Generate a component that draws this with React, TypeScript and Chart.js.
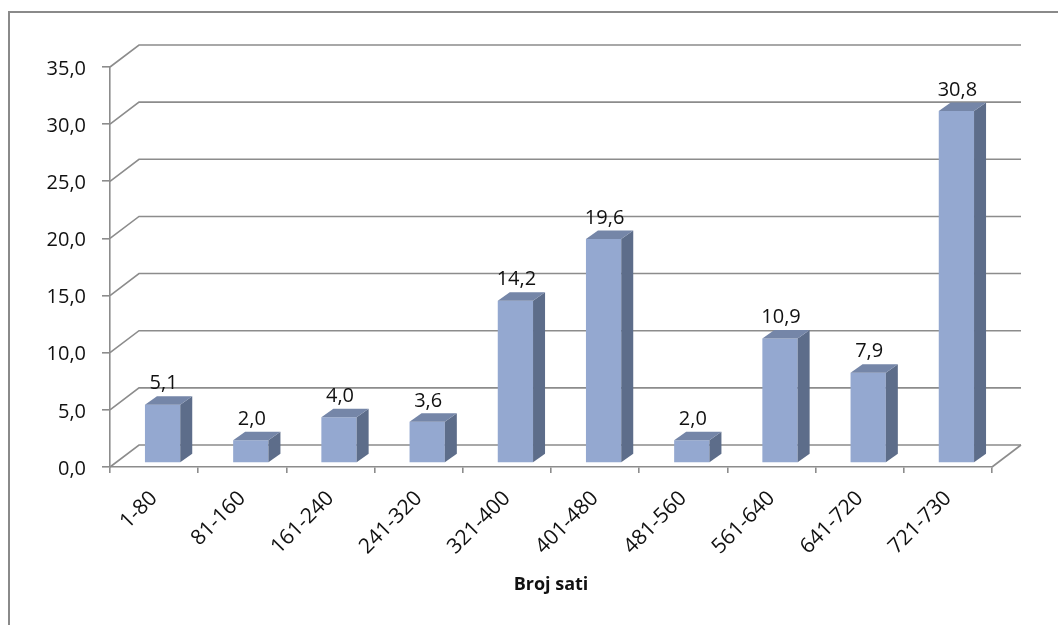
import { useEffect, useRef } from 'react';
import { Chart, registerables } from 'chart.js';

Chart.register(...registerables);

const categories = ['1-80', '81-160', '161-240', '241-320', '321-400', '401-480', '481-560', '561-640', '641-720', '721-730'];
const values = [5.1, 2.0, 4.0, 3.6, 14.2, 19.6, 2.0, 10.9, 7.9, 30.8];
const yTickValues = [0, 5, 10, 15, 20, 25, 30, 35];
const xAxisTitle = 'Broj sati';

const W = 1058;
const H = 625;
const FONT = "'Open Sans', 'Noto Sans', sans-serif";
const GRID = '#8c8c8c';
const FRONT = '#94a8d0';
const SIDE = '#5d6d8a';
const TOP = '#7586a8';
const DEPTH_X = 29;
const DEPTH_Y = -22;
const SHIFT_X = 8.5;
const SHIFT_Y = -4;
const BAR_DX = 12;
const BAR_DY = -8.5;

const fmt = (v: number) => v.toFixed(1).replace('.', ',');

const threeD = {
  id: 'threeD',
  beforeDraw(chart: any) {
    const ctx = chart.ctx;
    ctx.save();
    ctx.strokeStyle = '#8a8a8a';
    ctx.lineWidth = 2;
    ctx.beginPath();
    ctx.moveTo(9, H);
    ctx.lineTo(9, 12);
    ctx.lineTo(W, 12);
    ctx.stroke();
    ctx.restore();
  },
  beforeDatasetsDraw(chart: any) {
    const { ctx, chartArea, scales } = chart;
    const y = scales.y;
    ctx.save();
    ctx.strokeStyle = GRID;
    ctx.lineWidth = 1.6;
    for (const t of yTickValues) {
      const py = y.getPixelForValue(t);
      ctx.beginPath();
      ctx.moveTo(chartArea.left, py);
      ctx.lineTo(chartArea.left + DEPTH_X, py + DEPTH_Y);
      ctx.lineTo(chartArea.right + DEPTH_X, py + DEPTH_Y);
      ctx.stroke();
    }
    const p0 = y.getPixelForValue(0);
    ctx.beginPath();
    ctx.moveTo(chartArea.right, p0);
    ctx.lineTo(chartArea.right + DEPTH_X, p0 + DEPTH_Y);
    ctx.stroke();
    ctx.restore();
    ctx.save();
    ctx.translate(SHIFT_X, SHIFT_Y);
  },
  afterDatasetsDraw(chart: any) {
    const ctx = chart.ctx;
    const meta = chart.getDatasetMeta(0);
    meta.data.forEach((bar: any) => {
      const { x, y, base, width } = bar.getProps(['x', 'y', 'base', 'width'], true);
      const l = x - width / 2;
      const r = x + width / 2;
      ctx.fillStyle = SIDE;
      ctx.beginPath();
      ctx.moveTo(r, base);
      ctx.lineTo(r + BAR_DX, base + BAR_DY);
      ctx.lineTo(r + BAR_DX, y + BAR_DY);
      ctx.lineTo(r, y);
      ctx.closePath();
      ctx.fill();
      ctx.fillStyle = TOP;
      ctx.beginPath();
      ctx.moveTo(l, y);
      ctx.lineTo(l + BAR_DX, y + BAR_DY);
      ctx.lineTo(r + BAR_DX, y + BAR_DY);
      ctx.lineTo(r, y);
      ctx.closePath();
      ctx.fill();
    });
    ctx.restore();
    ctx.save();
    ctx.fillStyle = '#111';
    ctx.font = `20px ${FONT}`;
    ctx.textAlign = 'center';
    ctx.textBaseline = 'middle';
    meta.data.forEach((bar: any, i: number) => {
      const { x, y } = bar.getProps(['x', 'y'], true);
      ctx.fillText(fmt(values[i]), x + SHIFT_X + 1, y + SHIFT_Y - 21);
    });
    ctx.restore();
  },
};

export default function App() {
  const ref = useRef<HTMLCanvasElement>(null);
  useEffect(() => {
    if (!ref.current) return;
    const chart = new Chart(ref.current, {
      type: 'bar',
      data: {
        labels: categories,
        datasets: [
          {
            data: values,
            backgroundColor: FRONT,
            borderWidth: 0,
            barPercentage: 0.4,
            categoryPercentage: 1,
            clip: false as any,
          },
        ],
      },
      options: {
        responsive: false,
        animation: false,
        devicePixelRatio: 1,
        layout: { padding: { left: 0, top: 67, right: 66, bottom: 25 } },
        plugins: { legend: { display: false }, tooltip: { enabled: false } },
        scales: {
          x: {
            offset: true,
            grid: { offset: true, drawOnChartArea: false, drawTicks: true, tickLength: 6, color: GRID, lineWidth: 1.6 },
            border: { display: true, color: GRID, width: 1.6 },
            ticks: { color: '#111', font: { family: FONT, size: 21 }, minRotation: 45, maxRotation: 45, padding: 13, autoSkip: false },
            title: { display: true, text: xAxisTitle, color: '#111', font: { family: FONT, size: 18, weight: 'bold' }, padding: { top: 4, bottom: 4 } },
            afterFit: (s: any) => { s.height = H - 25 - 467; },
          },
          y: {
            min: 0,
            max: 35,
            grid: { drawOnChartArea: false, drawTicks: true, tickLength: 8, color: GRID, lineWidth: 1.6 },
            border: { display: true, color: GRID, width: 1.6 },
            ticks: { stepSize: 5, color: '#111', font: { family: FONT, size: 20 }, padding: 16, labelOffset: 2, callback: (v: any) => fmt(Number(v)) },
            afterFit: (s: any) => { s.width = 110; },
          },
        },
      },
      plugins: [threeD],
    });
    return () => chart.destroy();
  }, []);
  return (
    <div style={{ position: 'absolute', left: 0, top: 0, width: W, height: H, background: '#fff' }}>
      <canvas ref={ref} width={W} height={H} />
    </div>
  );
}
